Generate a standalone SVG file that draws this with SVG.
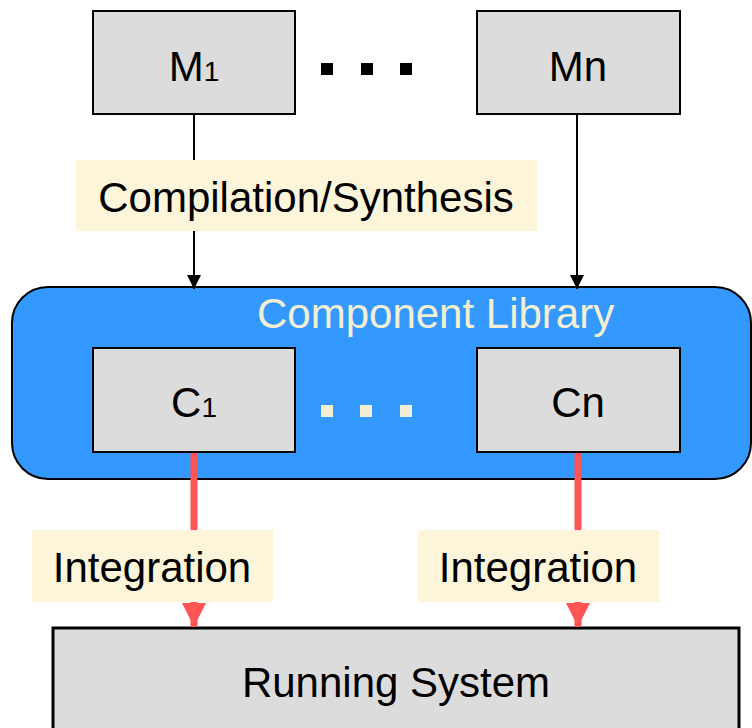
<svg xmlns="http://www.w3.org/2000/svg" width="752" height="728" viewBox="0 0 752 728">
<style>
.box{fill:#dcdcdc;stroke:#000;stroke-width:2}
.lbl{fill:#fdf5da}
.t{font-family:"Liberation Sans",Arial,sans-serif;font-size:42px;fill:#000}
.sub{font-size:28px}
.blk{stroke:#000;stroke-width:2;fill:none}
.red{stroke:#ff5555;stroke-width:7;fill:none}
</style>
<defs>
<marker id="ab" markerUnits="userSpaceOnUse" markerWidth="16" markerHeight="16" refX="14" refY="7" orient="auto"><path d="M0,0 L14,7 L0,14 Z" fill="#000"/></marker>
<marker id="ar" markerUnits="userSpaceOnUse" markerWidth="26" markerHeight="26" refX="24" refY="12" orient="auto"><path d="M0,0 L24,12 L0,24 Z" fill="#ff5555"/></marker>
</defs>
<g id="library">
<rect x="12" y="287" width="739" height="192" rx="36" ry="36" fill="#3399ff" stroke="#000" stroke-width="2"/>
<text class="t" x="257" y="328" style="fill:#f3efd3">Component Library</text>
<g fill="#f3efd3"><rect x="321" y="405" width="12" height="12"/><rect x="360" y="405" width="12" height="12"/><rect x="400" y="405" width="12" height="12"/></g>
</g>
<g id="M1"><rect class="box" x="93" y="11" width="202" height="103"/><text class="t" x="194" y="81" text-anchor="middle">M<tspan class="sub">1</tspan></text></g>
<g id="Mn"><rect class="box" x="477" y="11" width="203" height="103"/><text class="t" x="578" y="81" text-anchor="middle">Mn</text></g>
<g id="dots-top" fill="#000"><rect x="321" y="63" width="12" height="12"/><rect x="361" y="63" width="12" height="12"/><rect x="400" y="63" width="12" height="12"/></g>
<g id="C1"><rect class="box" x="93" y="348" width="202" height="104"/><text class="t" x="194" y="417" text-anchor="middle">C<tspan class="sub">1</tspan></text></g>
<g id="Cn"><rect class="box" x="477" y="348" width="203" height="104"/><text class="t" x="578" y="417" text-anchor="middle">Cn</text></g>
<g id="running"><rect x="53" y="628" width="686" height="110" fill="#dcdcdc" stroke="#000" stroke-width="3"/><text class="t" x="396" y="697" text-anchor="middle">Running System</text></g>
<g id="connectors">
<line class="blk" x1="194" y1="114" x2="194" y2="289" marker-end="url(#ab)"/>
<line class="blk" x1="577" y1="114" x2="577" y2="289" marker-end="url(#ab)"/>
<line class="red" x1="194" y1="453" x2="194" y2="627" marker-end="url(#ar)"/>
<line class="red" x1="578" y1="453" x2="578" y2="627" marker-end="url(#ar)"/>
</g>
<g id="label-compilation"><rect class="lbl" x="76" y="160" width="461" height="71"/><text class="t" x="306" y="212" text-anchor="middle">Compilation/Synthesis</text></g>
<g id="label-integration-1"><rect class="lbl" x="32" y="530" width="241" height="72"/><text class="t" x="152" y="582" text-anchor="middle">Integration</text></g>
<g id="label-integration-n"><rect class="lbl" x="418" y="530" width="241" height="72"/><text class="t" x="538" y="582" text-anchor="middle">Integration</text></g>
</svg>
